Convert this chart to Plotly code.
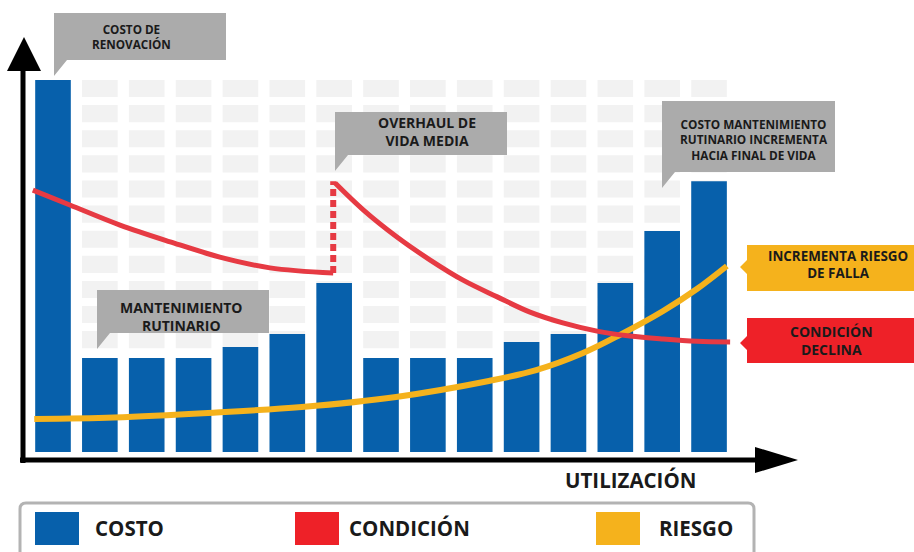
import plotly.graph_objects as go

W, H = 914, 552

# --- datos ---
periodos = list(range(1, 16))
costo = [100, 25.3, 25.3, 25.3, 28.2, 31.7, 45.4, 25.3, 25.3, 25.3, 29.6, 31.7, 45.4, 59.4, 72.8]

condicion_x1 = [0.57, 1.36, 2.43, 3.50, 4.56, 5.63, 6.98]
condicion_y1 = [70.4, 66.4, 61.0, 56.5, 52.4, 49.5, 48.1]
overhaul_x = [6.98, 6.98]
overhaul_y = [48.1, 72.8]
condicion_x2 = [7.02, 7.62, 8.34, 9.05, 9.75, 10.48, 11.18, 11.88, 12.61, 13.31, 14.02, 14.74, 15.45]
condicion_y2 = [72.3, 65.1, 57.8, 51.6, 46.2, 41.7, 37.6, 34.7, 32.5, 31.2, 30.4, 29.8, 29.6]

riesgo_x = [0.60, 2.30, 4.31, 6.31, 8.32, 10.30, 11.31, 12.31, 13.10, 14.02, 14.74, 15.38]
riesgo_y = [8.9, 9.3, 10.5, 12.1, 14.8, 19.1, 22.0, 26.6, 31.5, 37.9, 43.8, 50.0]

# rejilla gris de fondo (filas de celdas detrás de las barras)
n_filas = 11
paso_fila = 6.75
alto_celda = 4.6

AZUL = '#0760ab'
ROJO_LINEA = '#e63a43'
ROJO = '#ee2128'
AMARILLO = '#f5b21c'
GRIS = '#ababab'
TEXTO = '#1a1a1a'
FUENTE = 'Open Sans, Lato, sans-serif'


def fx(p):
    return p / W


def fy(p):
    return 1 - p / H


def ruta(puntos):
    s = 'M ' + ' L '.join(f'{fx(a):.5f},{fy(b):.5f}' for a, b in puntos)
    return s + ' Z'


fig = go.Figure()

# celdas del fondo
cx, cbase = [], []
for k in range(n_filas):
    for p in periodos[1:]:
        cx.append(p)
        cbase.append(100 - paso_fila * k - alto_celda)
fig.add_trace(go.Bar(x=cx, y=[alto_celda] * len(cx), base=cbase,
                     marker_color='#f2f2f2', marker_line_width=0,
                     hoverinfo='skip', showlegend=False))

fig.add_trace(go.Bar(x=periodos, y=costo, name='COSTO', marker_color=AZUL,
                     marker_line_width=0, showlegend=False))

fig.add_trace(go.Scatter(x=riesgo_x, y=riesgo_y, mode='lines', line_shape='spline',
                         line=dict(color=AMARILLO, width=6), name='RIESGO', showlegend=False))
fig.add_trace(go.Scatter(x=condicion_x1, y=condicion_y1, mode='lines', line_shape='spline',
                         line=dict(color=ROJO_LINEA, width=5), name='CONDICIÓN', showlegend=False))
fig.add_trace(go.Scatter(x=overhaul_x, y=overhaul_y, mode='lines',
                         line=dict(color=ROJO_LINEA, width=6, dash='7px,4px'), showlegend=False))
fig.add_trace(go.Scatter(x=condicion_x2, y=condicion_y2, mode='lines', line_shape='spline',
                         line=dict(color=ROJO_LINEA, width=5), showlegend=False))

shapes = []
# ejes con flechas
shapes.append(dict(type='line', xref='paper', yref='paper', x0=fx(23), x1=fx(23),
                   y0=fy(463), y1=fy(66), line=dict(color='black', width=5)))
shapes.append(dict(type='path', xref='paper', yref='paper',
                   path=ruta([(24, 37), (7, 71), (41, 71)]), fillcolor='black', line_width=0))
shapes.append(dict(type='line', xref='paper', yref='paper', x0=fx(20), x1=fx(760),
                   y0=fy(460), y1=fy(460), line=dict(color='black', width=5)))
shapes.append(dict(type='path', xref='paper', yref='paper',
                   path=ruta([(798, 460), (755, 447), (755, 473)]), fillcolor='black', line_width=0))


def globo(x0, y0, x1, y1):
    return dict(type='path', xref='paper', yref='paper',
                path=ruta([(x0, y0), (x1, y0), (x1, y1), (x0 + 13, y1), (x0, y1 + 16)]),
                fillcolor=GRIS, line_width=0)


def etiqueta(x0, y0, x1, y1, ym, color):
    return dict(type='path', xref='paper', yref='paper',
                path=ruta([(x0, y0), (x1, y0), (x1, y1), (x0, y1),
                           (x0, ym + 7), (x0 - 7, ym), (x0, ym - 7)]),
                fillcolor=color, line_width=0)


shapes.append(globo(54, 13, 226, 60))
shapes.append(globo(335, 112, 507, 155))
shapes.append(globo(662, 101, 835, 172))
shapes.append(globo(97, 290, 269, 333))
shapes.append(etiqueta(747, 245, 920, 291, 267, AMARILLO))
shapes.append(etiqueta(747, 318, 920, 363, 343, ROJO))

# caja de leyenda
r = 6
shapes.append(dict(type='path', xref='paper', yref='paper',
                   path=(f'M {fx(20)},{fy(560)} L {fx(20)},{fy(503 + r)} '
                         f'Q {fx(20)},{fy(503)} {fx(20 + r)},{fy(503)} '
                         f'L {fx(754 - r)},{fy(503)} Q {fx(754)},{fy(503)} {fx(754)},{fy(503 + r)} '
                         f'L {fx(754)},{fy(560)}'),
                   line=dict(color='#b3b3b3', width=3)))
for x0, col in [(35, AZUL), (295, ROJO), (596, AMARILLO)]:
    shapes.append(dict(type='rect', xref='paper', yref='paper', x0=fx(x0), x1=fx(x0 + 44),
                       y0=fy(545), y1=fy(512), fillcolor=col, line_width=0))

annotations = []


def texto(x, y, t, size):
    annotations.append(dict(xref='paper', yref='paper', x=fx(x), y=fy(y), text=t,
                            showarrow=False, xanchor='center', yanchor='middle',
                            font=dict(family=FUENTE, size=size, color=TEXTO, weight='bold')))


texto(131, 37, 'COSTO DE<br>RENOVACIÓN', 11.7)
texto(427, 131, 'OVERHAUL DE<br>VIDA MEDIA', 14)
texto(754, 139, 'COSTO MANTENIMIENTO<br>RUTINARIO INCREMENTA<br>HACIA FINAL DE VIDA', 11.8)
texto(181, 316, 'MANTENIMIENTO<br>RUTINARIO', 14)
texto(838, 264, 'INCREMENTA RIESGO<br>DE FALLA', 13.4)
texto(831, 340, 'CONDICIÓN<br>DECLINA', 14)
texto(630, 480, 'UTILIZACIÓN', 20.5)

for x0, t in [(93, 'COSTO'), (347, 'CONDICIÓN'), (657, 'RIESGO')]:
    annotations.append(dict(xref='paper', yref='paper', x=fx(x0), y=fy(528), text=t,
                            showarrow=False, xanchor='left', yanchor='middle',
                            font=dict(family=FUENTE, size=20.5, color=TEXTO, weight='bold')))

fig.update_layout(
    width=W, height=H,
    margin=dict(l=0, r=0, t=0, b=0),
    paper_bgcolor='white', plot_bgcolor='white',
    barmode='overlay', bargap=0.24,
    xaxis=dict(range=[(0 - 53) / 46.86 + 1, (W - 53) / 46.86 + 1], visible=False, fixedrange=True),
    yaxis=dict(range=[(452 - H) / 3.72, 452 / 3.72], visible=False, fixedrange=True),
    shapes=shapes,
    annotations=annotations,
    showlegend=False,
)

fig.write_html("out.html", config={'displayModeBar': False},
               post_script="document.body.style.margin='0';")
